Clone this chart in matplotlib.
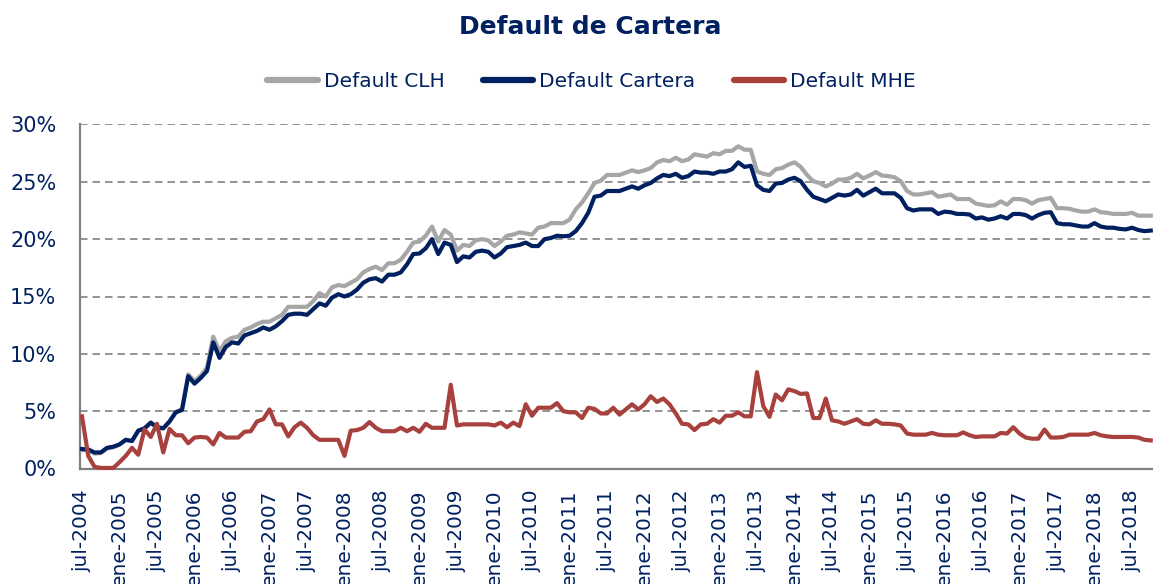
import matplotlib
matplotlib.use("Agg")
import matplotlib.pyplot as plt
from matplotlib.ticker import FuncFormatter

# ---- data (percent), monthly from jul-2004 to oct-2018 ----
default_clh = [
    1.6, 1.6, 1.3, 1.35, 1.75, 1.85, 2.1, 2.5, 2.4, 3.3, 3.5, 4.0, 3.6, 3.5, 4.1, 4.9, 5.2, 8.2, 7.6, 8.1,
    8.8, 11.5, 10.2, 11.1, 11.4, 11.5, 12.1, 12.3, 12.6,
    12.8, 12.8, 13.1, 13.4, 14.1, 14.1, 14.1, 14.1, 14.6, 15.3, 15.0, 15.8, 16.0, 15.9, 16.2, 16.5, 17.1,
    17.4, 17.6, 17.3, 17.9, 17.9, 18.2, 18.9, 19.7, 19.8, 20.3, 21.1, 19.8,
    20.8, 20.4, 19.0, 19.5, 19.4, 19.9, 20.0, 19.9, 19.4, 19.8, 20.3, 20.4, 20.6, 20.5, 20.4, 21.0, 21.1,
    21.4, 21.4, 21.4, 21.7, 22.6, 23.2, 24.0, 24.9, 25.1, 25.6, 25.6, 25.6,
    25.8, 26.0, 25.85, 26.0, 26.2, 26.7, 26.9, 26.8, 27.1, 26.8, 26.95, 27.4, 27.3, 27.2, 27.5, 27.4, 27.7,
    27.7, 28.1, 27.8, 27.8, 25.9, 25.7, 25.6, 26.1, 26.2, 26.5, 26.7, 26.3,
    25.6, 25.05, 24.9, 24.6, 24.85, 25.2, 25.2, 25.35, 25.7, 25.3, 25.55, 25.85, 25.55, 25.5, 25.4, 25.05,
    24.2, 23.9, 23.9, 24.0, 24.1, 23.7, 23.8, 23.9, 23.5, 23.5, 23.5, 23.1,
    23.0, 22.9, 22.95, 23.3, 23.0, 23.5, 23.5, 23.4, 23.1, 23.4, 23.5, 23.6, 22.7, 22.7, 22.65, 22.5, 22.4,
    22.4, 22.6, 22.35, 22.3, 22.2, 22.2, 22.2, 22.3, 22.05, 22.05, 22.05,
]
default_cartera = [
    1.7, 1.66, 1.4, 1.4, 1.8, 1.9, 2.1, 2.5, 2.4, 3.3, 3.5, 4.0, 3.6, 3.5, 4.1, 4.9, 5.1, 8.05, 7.4, 7.9,
    8.5, 11.0, 9.65, 10.6, 11.0, 10.9, 11.6, 11.8, 12.0,
    12.3, 12.1, 12.4, 12.85, 13.4, 13.5, 13.5, 13.4, 13.9, 14.4, 14.2, 14.9, 15.2, 15.0, 15.2, 15.6, 16.2,
    16.5, 16.6, 16.3, 16.9, 16.9, 17.1, 17.8, 18.7, 18.75, 19.2, 20.0, 18.7,
    19.7, 19.5, 18.0, 18.5, 18.4, 18.9, 19.0, 18.9, 18.4, 18.75, 19.3, 19.4, 19.5, 19.7, 19.4, 19.4, 20.0,
    20.1, 20.3, 20.25, 20.3, 20.7, 21.4, 22.3, 23.7, 23.8, 24.2, 24.2, 24.2,
    24.4, 24.6, 24.4, 24.7, 24.9, 25.3, 25.6, 25.5, 25.7, 25.35, 25.5, 25.9, 25.8, 25.8, 25.7, 25.9, 25.9,
    26.1, 26.7, 26.3, 26.4, 24.7, 24.3, 24.2, 24.85, 24.9, 25.2, 25.35, 25.05,
    24.3, 23.7, 23.5, 23.3, 23.6, 23.9, 23.8, 23.9, 24.3, 23.8, 24.1, 24.4, 24.0, 24.0, 24.0, 23.6,
    22.7, 22.5, 22.6, 22.6, 22.6, 22.2, 22.4, 22.35, 22.2, 22.2, 22.15, 21.8,
    21.9, 21.7, 21.8, 22.0, 21.8, 22.2, 22.2, 22.1, 21.8, 22.1, 22.3, 22.35, 21.4, 21.3, 21.3, 21.2, 21.1,
    21.1, 21.4, 21.1, 21.0, 21.0, 20.9, 20.85, 21.0, 20.8, 20.7, 20.75,
]
default_mhe = [
    4.55, 1.1, 0.15, 0.05, 0.05, 0.05, 0.55, 1.1, 1.8, 1.2, 3.4, 2.75, 3.9, 1.4, 3.45, 2.9, 2.9, 2.2, 2.7,
    2.75, 2.7, 2.1, 3.1, 2.7, 2.7, 2.7, 3.2, 3.25, 4.1,
    4.3, 5.15, 3.85, 3.85, 2.8, 3.6, 4.0, 3.55, 2.9, 2.5, 2.5, 2.5, 2.5, 1.1, 3.3, 3.35, 3.55, 4.05, 3.55,
    3.25, 3.25, 3.25, 3.55, 3.25, 3.55, 3.2, 3.9, 3.55, 3.55,
    3.55, 7.3, 3.75, 3.85, 3.85, 3.85, 3.85, 3.85, 3.75, 4.0, 3.6, 4.0, 3.7, 5.6, 4.6, 5.3, 5.3, 5.3, 5.7,
    5.0, 4.9, 4.9, 4.4, 5.3, 5.2, 4.8, 4.8, 5.3, 4.7,
    5.15, 5.6, 5.15, 5.6, 6.3, 5.8, 6.1, 5.6, 4.8, 3.9, 3.85, 3.35, 3.85, 3.9, 4.3, 4.0, 4.6, 4.6, 4.9,
    4.55, 4.55, 8.4, 5.45, 4.5, 6.45, 5.95, 6.9, 6.75, 6.5,
    6.55, 4.4, 4.4, 6.1, 4.2, 4.1, 3.9, 4.1, 4.3, 3.9, 3.85, 4.2, 3.9, 3.9, 3.85, 3.75, 3.05, 2.95, 2.95,
    2.95, 3.1, 2.95, 2.9, 2.9, 2.9, 3.15, 2.9, 2.75,
    2.8, 2.8, 2.8, 3.1, 3.05, 3.6, 3.05, 2.7, 2.6, 2.6, 3.4, 2.7, 2.7, 2.75, 2.95, 2.95, 2.95, 2.95, 3.1,
    2.9, 2.8, 2.75, 2.75, 2.75, 2.75, 2.7, 2.5, 2.45,
]
tick_labels = [
    "jul-2004", "ene-2005", "jul-2005", "ene-2006", "jul-2006", "ene-2007", "jul-2007", "ene-2008",
    "jul-2008", "ene-2009", "jul-2009", "ene-2010", "jul-2010", "ene-2011", "jul-2011", "ene-2012",
    "jul-2012", "ene-2013", "jul-2013", "ene-2014", "jul-2014", "ene-2015", "jul-2015", "ene-2016",
    "jul-2016", "ene-2017", "jul-2017", "ene-2018", "jul-2018",
]
y_ticks = [0, 5, 10, 15, 20, 25, 30]

NAVY = "#002060"
GRAY = "#A6A6A6"
RED = "#A8413E"
AXIS = "#808080"

plt.rcParams["font.family"] = ["DejaVu Sans"]

fig = plt.figure(figsize=(11.53, 5.84), dpi=100)
ax = fig.add_axes([80 / 1153, 115.5 / 584, 1073 / 1153, 344 / 584])

x = list(range(len(default_cartera)))
ax.plot(x, default_clh, color=GRAY, lw=3, label="Default CLH", clip_on=False, solid_joinstyle="round")
ax.plot(x, default_cartera, color=NAVY, lw=3, label="Default Cartera", clip_on=False, solid_joinstyle="round")
ax.plot(x, default_mhe, color=RED, lw=3, label="Default MHE", clip_on=False, solid_joinstyle="round")

ax.set_xlim(-0.32, -0.32 + 1073 / 6.25)
ax.set_ylim(0, 30)
ax.set_yticks(y_ticks)
ax.yaxis.set_major_formatter(FuncFormatter(lambda v, p: f"{v:.0f}%"))
ax.set_xticks(list(range(0, len(tick_labels) * 6, 6)))
ax.set_xticklabels(tick_labels, rotation=90)

ax.tick_params(axis="y", length=0, pad=17, labelsize=15, labelcolor=NAVY)
ax.tick_params(axis="x", length=0, pad=15, labelsize=14.5, labelcolor=NAVY)

ax.grid(axis="y", color=AXIS, lw=1.2, linestyle=(0, (4.5, 3)))
ax.set_axisbelow(True)
for s in ["top", "right"]:
    ax.spines[s].set_visible(False)
for s in ["left", "bottom"]:
    ax.spines[s].set_color(AXIS)
    ax.spines[s].set_linewidth(1.6)
    ax.spines[s].set_zorder(1)

fig.text(0.512, 0.953, "Default de Cartera", ha="center", va="center",
         fontsize=18, fontweight="bold", color=NAVY)
leg = fig.legend(loc="center", bbox_to_anchor=(0.513, 0.86), ncol=3, frameon=False,
                 fontsize=14.5, handlelength=2.5, handletextpad=0.3, columnspacing=1.9)
for t in leg.get_texts():
    t.set_color(NAVY)
for h in leg.get_lines():
    h.set_linewidth(4.5)
    h.set_solid_capstyle("round")

fig.savefig("out.png", dpi=100)
